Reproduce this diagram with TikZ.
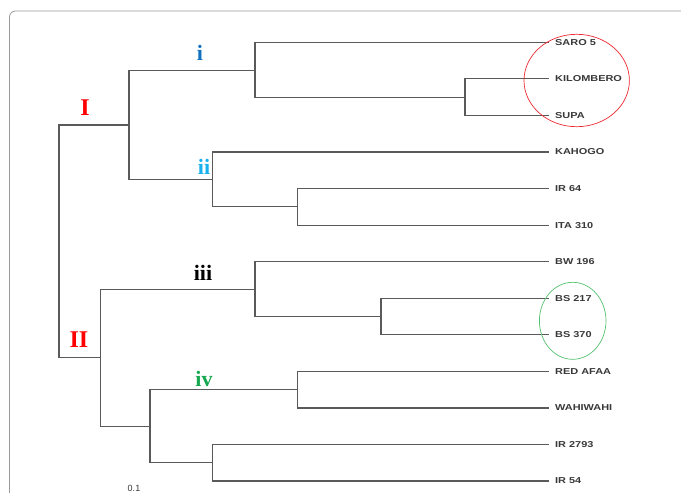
\documentclass[tikz,border=0pt]{standalone}
\usepackage{fontspec}
\setmainfont{Liberation Serif}
\newfontfamily\leaffont{Liberation Sans}
\definecolor{branch}{HTML}{5A5A5A}
\definecolor{leaftext}{HTML}{383838}
\definecolor{frame}{HTML}{9A9A9A}
\definecolor{cladeblue}{HTML}{1270C0}
\definecolor{cladecyan}{HTML}{18B0EE}
\definecolor{cladegreen}{HTML}{16A850}
\definecolor{ringred}{HTML}{EE2830}
\definecolor{ringgreen}{HTML}{55C070}
\tikzset{
  branchline/.style={draw=branch, line width=1.2pt},
  leaf/.style={anchor=west, inner sep=0pt, text=leaftext,
    font=\leaffont\bfseries\fontsize{8.6}{9}\selectfont},
  majorclade/.style={anchor=base, inner sep=0pt, text=red,
    font=\bfseries\fontsize{24}{26}\selectfont},
  minorclade/.style={anchor=base, inner sep=0pt,
    font=\bfseries\fontsize{22}{24}\selectfont},
  ring/.style={draw, line width=0.7pt}
}
\newcommand{\lbl}[1]{\scalebox{1.27}[1]{#1}}
\begin{document}
\begin{tikzpicture}[x=1pt, y=-1pt]
\useasboundingbox (0,0) rectangle (681,493);
% outer panel (continues past the right and bottom edges)
\draw[frame, line width=0.8pt, rounded corners=6pt]
  (9.5,520) -- (9.5,11) -- (700,11);

% tips of the branches
\foreach \n/\k in {saro/0, kil/1, supa/2, kah/3, irsf/4, ita/5, bw/6,
                   bsa/7, bsb/8, red/9, wahi/10, irb/11, irc/12}{
  \coordinate (t\n) at (549, 42.3+36.56*\k);
}

% leaf labels
\node[leaf] (saro) at (555, 42.3)  {\lbl{SARO 5}};
\node[leaf] (kil)  at (555, 78.9)  {\lbl{KILOMBERO}};
\node[leaf] (supa) at (555, 115.4) {\lbl{SUPA}};
\node[leaf] (kah)  at (555, 152.0) {\lbl{KAHOGO}};
\node[leaf] (irsf) at (555, 188.5) {\lbl{IR 64}};
\node[leaf] (ita)  at (555, 225.1) {\lbl{ITA 310}};
\node[leaf] (bw)   at (555, 261.7) {\lbl{BW 196}};
\node[leaf] (bsa)  at (555, 298.2) {\lbl{BS 217}};
\node[leaf] (bsb)  at (555, 334.8) {\lbl{BS 370}};
\node[leaf] (red)  at (555, 371.3) {\lbl{RED AFAA}};
\node[leaf] (wahi) at (555, 407.9) {\lbl{WAHIWAHI}};
\node[leaf] (irb)  at (555, 444.5) {\lbl{IR 2793}};
\node[leaf] (irc)  at (555, 481.0) {\lbl{IR 54}};

% internal nodes of the dendrogram
\coordinate (root) at (59, 241.4);
\coordinate (cI)   at (129, 124.9);
\coordinate (ci)   at (255, 70.2);
\coordinate (cks)  at (465, 97.2);
\coordinate (cii)  at (212.7, 179.6);
\coordinate (cir)  at (297.3, 206.8);
\coordinate (cII)  at (100.7, 357.8);
\coordinate (ciii) at (255, 289.4);
\coordinate (cbs)  at (381, 316.5);
\coordinate (civ)  at (150, 426.2);
\coordinate (cra)  at (297.3, 389.6);
\coordinate (cirr) at (212.7, 462.8);

% branches
\draw[branchline] (root) |- (cI);
\draw[branchline] (root) |- (cII);
\draw[branchline] (cI) |- (ci);
\draw[branchline] (cI) |- (cii);
\draw[branchline] (ci) |- (tsaro);
\draw[branchline] (ci) |- (cks);
\draw[branchline] (cks) |- (tkil);
\draw[branchline] (cks) |- (tsupa);
\draw[branchline] (cii) |- (tkah);
\draw[branchline] (cii) |- (cir);
\draw[branchline] (cir) |- (tirsf);
\draw[branchline] (cir) |- (tita);
\draw[branchline] (cII) |- (ciii);
\draw[branchline] (cII) |- (civ);
\draw[branchline] (ciii) |- (tbw);
\draw[branchline] (ciii) |- (cbs);
\draw[branchline] (cbs) |- (tbsa);
\draw[branchline] (cbs) |- (tbsb);
\draw[branchline] (civ) |- (cra);
\draw[branchline] (civ) |- (cirr);
\draw[branchline] (cra) |- (tred);
\draw[branchline] (cra) |- (twahi);
\draw[branchline] (cirr) |- (tirb);
\draw[branchline] (cirr) |- (tirc);

% clade labels
\node[majorclade] (labI)  at (85, 115) {I};
\node[majorclade] (labII) at (79, 347) {II};
\node[minorclade, text=cladeblue]  (labi)   at (200, 60.5) {i};
\node[minorclade, text=cladecyan]  (labii)  at (204, 174)  {ii};
\node[minorclade, text=black]      (labiii) at (203, 280)  {iii};
\node[minorclade, text=cladegreen] (labiv)  at (204, 386.5) {iv};

% highlighted groups
\draw[ring, ringred]   (576.7, 80.5)  ellipse [x radius=52.7, y radius=46.2];
\draw[ring, ringgreen] (572.7, 320.8) ellipse [x radius=33.3, y radius=38.5];

% scale value
\node[anchor=north, inner sep=0pt, text=leaftext,
  font=\leaffont\fontsize{9}{10}\selectfont] (scale) at (134, 485) {0.1};
\end{tikzpicture}
\end{document}
